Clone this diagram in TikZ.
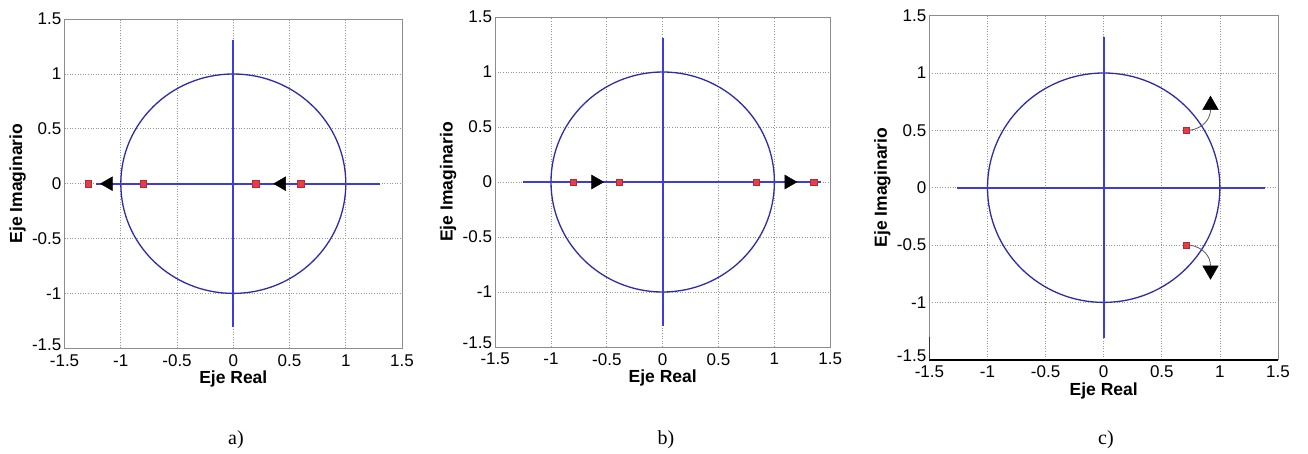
\documentclass[tikz,border=0pt]{standalone}
\usepackage{fontspec}
\setmainfont{Liberation Sans}
\newfontfamily\capfont{Liberation Serif}
\usetikzlibrary{shapes.geometric}
\definecolor{plotblue}{RGB}{60,60,220}
\definecolor{circblue}{RGB}{45,45,165}
\definecolor{polered}{RGB}{232,60,70}
\definecolor{gridgray}{RGB}{150,150,150}
\definecolor{framegray}{RGB}{140,140,140}
\tikzset{
  blueline/.style={draw=plotblue, line width=2pt},
  circline/.style={draw=circblue, line width=1.3pt},
  gridline/.style={draw=gridgray, line width=0.8pt, dash pattern=on 1pt off 1.6pt},
  framebox/.style={draw=framegray, line width=0.9pt},
  ticklab/.style={font=\fontsize{17}{19}\selectfont, inner sep=0pt},
  axlab/.style={font=\bfseries\fontsize{17.5}{19}\selectfont, inner sep=0pt},
  pole/.style={rectangle, fill=polered, draw=polered!75!black, line width=0.4pt, minimum size=6.5pt, inner sep=0pt},
  tri/.style={regular polygon, regular polygon sides=3, fill=black, draw=black, minimum size=17pt, inner sep=0pt, outer sep=0pt},
  pathcurve/.style={draw=black!65, line width=0.8pt},
  captext/.style={font=\capfont\fontsize{20}{22}\selectfont, inner sep=0pt}
}
\newcommand\pzpanel[1]{%
  \foreach \v in {-1,-0.5,0,0.5,1}{
    \draw[gridline] (\v,-1.5) -- (\v,1.5);
    \draw[gridline] (-1.5,\v) -- (1.5,\v);
  }
  \draw[framebox] (-1.5,-1.5) rectangle (1.5,1.5);
  \foreach \v [count=\i] in {-1.5,-1,-0.5,0,0.5,1,1.5}{
    \node[ticklab, anchor=north] (#1x\i) at ([yshift=-6pt]\v,-1.5) {\v};
  }
  \foreach \v [count=\i] in {-1,-0.5,0,0.5,1,1.5}{
    \node[ticklab, anchor=east] (#1y\i) at ([xshift=-3pt]-1.5,\v) {\v};
  }
  \node[ticklab, anchor=east] (#1y0) at ([xshift=-3pt,yshift=4pt]-1.5,-1.5) {-1.5};
  \node[axlab] (#1xl) at ([yshift=-31pt]0,-1.5) {Eje Real};
  \node[axlab, rotate=90] (#1yl) at ([xshift=-47pt]-1.5,0) {Eje Imaginario};
  \draw[circline] (0,0) circle [radius=1];
}
\begin{document}
\begin{tikzpicture}
\useasboundingbox (0,0) rectangle (1308pt,453pt);
\fill[white] (0,0) rectangle (1308pt,453pt);

% ---------- panel a ----------
\begin{scope}[shift={(233.3pt,269.3pt)}, x=112.5pt, y=109.7pt]
  \pzpanel{a}
  \draw[blueline] (0,-1.31) -- (0,1.31);
  \draw[blueline] (-1.22,0) -- (1.3,0);
  \node[tri, regular polygon rotate=90, minimum size=16pt] (ta1) at (-1.11,0) {};
  \node[tri, regular polygon rotate=90, minimum size=16pt] (ta2) at (0.43,0) {};
  \node[pole] (pa1) at (-1.29,0) {};
  \node[pole] (pa2) at (-0.8,0) {};
  \node[pole] (pa3) at (0.2,0) {};
  \node[pole] (pa4) at (0.6,0) {};
\end{scope}
\node[captext] (capa) at (236pt,13pt) {a)};

% ---------- panel b ----------
\begin{scope}[shift={(662.7pt,271pt)}, x=111.7pt, y=110pt]
  \pzpanel{b}
  \draw[blueline] (0,-1.31) -- (0,1.31);
  \draw[blueline] (-1.25,0) -- (1.42,0);
  \node[tri, regular polygon rotate=-90, minimum size=16pt] (tb1) at (-0.6,0) {};
  \node[tri, regular polygon rotate=-90, minimum size=16pt] (tb2) at (1.13,0) {};
  \node[pole] (pb1) at (-0.8,0) {};
  \node[pole] (pb2) at (-0.39,0) {};
  \node[pole] (pb3) at (0.835,0) {};
  \node[pole] (pb4) at (1.35,0) {};
\end{scope}
\node[captext] (capb) at (666pt,13pt) {b)};

% ---------- panel c ----------
\begin{scope}[shift={(1103.7pt,265.3pt)}, x=116.2pt, y=114.7pt]
  \pzpanel{c}
  \draw[black, line width=2pt] (-1.5,-1.5) -- (1.5,-1.5);
  \draw[black!80, line width=0.9pt] (-1.5,-1.5) -- (-1.5,-1.3);
  \draw[blueline] (0,-1.31) -- (0,1.31);
  \draw[blueline] (-1.26,0) -- (1.39,0);
  \node[tri, minimum size=18pt] (tc1) at (0.919,0.72) {};
  \node[tri, regular polygon rotate=180, minimum size=18pt] (tc2) at (0.919,-0.72) {};
  \node[pole] (pc1) at (0.71,0.5) {};
  \node[pole] (pc2) at (0.71,-0.5) {};
  \draw[pathcurve] (pc1.east) .. controls +(0.12,0.02) and +(0,-0.08) .. (tc1.south);
  \draw[pathcurve] (pc2.east) .. controls +(0.12,-0.02) and +(0,0.08) .. (tc2.north);
\end{scope}
\node[captext] (capc) at (1106pt,13pt) {c)};
\end{tikzpicture}
\end{document}
